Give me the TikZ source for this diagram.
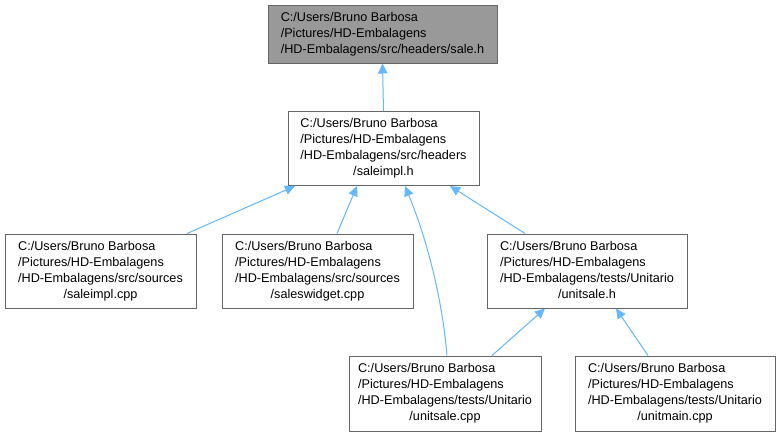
\documentclass[tikz,border=0pt]{standalone}
\usepackage{fontspec}
\setmainfont{Liberation Sans}
\usepackage{tikz}
\usetikzlibrary{arrows.meta,calc}
\definecolor{edgeblue}{HTML}{63B8FF}
\definecolor{boxline}{HTML}{666666}
\definecolor{boxfill}{HTML}{999999}
\tikzset{
  file/.style={rectangle,draw=boxline,fill=white,line width=0.75pt,
               minimum width=#1*0.75pt,minimum height=74*0.75pt,inner sep=0pt,
               font=\fontsize{9.5}{12}\selectfont},
  file/.default=191,
  cur/.style={file=229,fill=boxfill,minimum height=58*0.75pt},
  dep/.style={-{Triangle[length=7.5pt,width=7pt]},line width=0.75pt,color=edgeblue},
}
\newcommand{\fname}[4]{\begin{tabular}{@{}l@{}}#1\\#2\\#3\\\multicolumn{1}{@{}c@{}}{#4}\end{tabular}}

\begin{document}
\begin{tikzpicture}[x=0.75pt,y=-0.75pt]
  \useasboundingbox[fill=white] (0,0) rectangle (780,437);

  % ── Header being documented
  \node[cur] (sale) at (382.5,34)
    {\begin{tabular}{@{}l@{}}C:/Users/Bruno Barbosa\\/Pictures/HD-Embalagens\\/HD-Embalagens/src/headers/sale.h\end{tabular}};

  % ── Direct includer
  \node[file] (saleimplh) at (383.5,148.5)
    {\fname{C:/Users/Bruno Barbosa}{/Pictures/HD-Embalagens}{/HD-Embalagens/src/headers}{/saleimpl.h}};

  % ── Second row
  \node[file] (saleimplcpp) at (100.5,271)
    {\fname{C:/Users/Bruno Barbosa}{/Pictures/HD-Embalagens}{/HD-Embalagens/src/sources}{/saleimpl.cpp}};
  \node[file] (saleswidget) at (317.5,271)
    {\fname{C:/Users/Bruno Barbosa}{/Pictures/HD-Embalagens}{/HD-Embalagens/src/sources}{/saleswidget.cpp}};
  \node[file=200] (unitsaleh) at (587,271)
    {\fname{C:/Users/Bruno Barbosa}{/Pictures/HD-Embalagens}{/HD-Embalagens/tests/Unitario}{/unitsale.h}};

  % ── Third row
  \node[file=192,minimum height=75*0.75pt] (unitsalecpp) at (445,393.5)
    {\fname{C:/Users/Bruno Barbosa}{/Pictures/HD-Embalagens}{/HD-Embalagens/tests/Unitario}{/unitsale.cpp}};
  \node[file=200,minimum height=75*0.75pt] (unitmain) at (675,393.5)
    {\fname{C:/Users/Bruno Barbosa}{/Pictures/HD-Embalagens}{/HD-Embalagens/tests/Unitario}{/unitmain.cpp}};

  % ── Include edges
  \draw[dep] (saleimplh.north) -- (sale.south);
  \draw[dep] ($(saleimplcpp.north)+(86.5,0)$) -- ($(saleimplh.south)+(-88.5,0)$);
  \draw[dep] ($(saleswidget.north)+(19.5,0)$) -- ($(saleimplh.south)+(-26.5,0)$);
  \draw[dep] ($(unitsalecpp.north)+(2,0)$) .. controls ($(unitsalecpp.north)+(-4,-70)$)
    and ($(saleimplh.south)+(38,40)$) .. ($(saleimplh.south)+(21.5,0)$);
  \draw[dep] ($(unitsaleh.north)+(-62,0)$) -- ($(saleimplh.south)+(66.5,0)$);
  \draw[dep] ($(unitsalecpp.north)+(47,0)$) -- ($(unitsaleh.south)+(-42,0)$);
  \draw[dep] ($(unitmain.north)+(-27,0)$) -- ($(unitsaleh.south)+(29,0)$);
\end{tikzpicture}
\end{document}
